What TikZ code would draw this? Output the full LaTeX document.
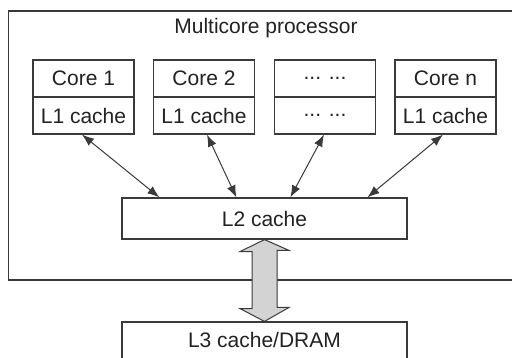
\documentclass[tikz,border=0pt]{standalone}
\usepackage{fontspec}
\setmainfont{Liberation Sans}
\usetikzlibrary{arrows.meta}
\definecolor{ln}{HTML}{3A3A3A}
\definecolor{tx}{HTML}{222222}
\definecolor{bigfill}{HTML}{D3D3D3}
\tikzset{
  box/.style={draw=ln, line width=1.2pt, fill=white, minimum width=101pt, minimum height=37pt, inner sep=0pt, text=tx, font=\fontsize{21}{24}\selectfont},
  wide/.style={box, minimum width=285pt, minimum height=41pt},
  link/.style={draw=ln, line width=1pt, {Latex[length=12pt,width=9pt]}-{Latex[length=12pt,width=9pt]}},
}
\begin{document}
\begin{tikzpicture}[x=1pt,y=-1pt]
\useasboundingbox (0,0) rectangle (512,358);
\clip (0,0) rectangle (512,358);
\fill[white] (0,0) rectangle (512,358);
\draw[ln, line width=1.2pt] (8.5,11) rectangle (530,280);
\node[text=tx, font=\fontsize{21}{24}\selectfont] (title) at (266,28) {Multicore processor};
% cores
\node[box] (c1t) at (83.5,78.5) {Core 1};
\node[box] (c1b) at (83.5,115.5) {L1 cache};
\node[box] (c2t) at (204,78.5) {Core 2};
\node[box] (c2b) at (204,115.5) {L1 cache};
\node[box] (c3t) at (325,78.5) {... ...};
\node[box] (c3b) at (325,115.5) {... ...};
\node[box] (c4t) at (445.5,78.5) {Core n};
\node[box] (c4b) at (445.5,115.5) {L1 cache};
% L2
\node[wide] (l2) at (264.5,218.5) {L2 cache};
\node[wide, minimum height=60pt] (l3) at (264.5,352) {};
\node[text=tx, font=\fontsize{21}{24}\selectfont] (l3t) at (264.5,340) {L3 cache/DRAM};
% links
\draw[link] ([xshift=38pt]l2.north west) -- ([xshift=-1.5pt]c1b.south);
\draw[link] ([xshift=115pt]l2.north west) -- ([xshift=3pt]c2b.south);
\draw[link] ([xshift=169pt]l2.north west) -- ([xshift=-1pt]c3b.south);
\draw[link] ([xshift=246pt]l2.north west) -- ([xshift=-2.5pt]c4b.south);
% big double arrow
\coordinate (bt) at (l2.south);
\coordinate (bb) at (l3.north);
\draw[ln, line width=1pt, fill=bigfill, line join=miter]
  (bt) -- ++(-24.5,12) -- ++(12,0) -- ++(0,57) -- ++(-12,0) -- (bb)
  -- ++(24.5,-14) -- ++(-12,0) -- ++(0,-57) -- ++(12,0) -- cycle;
\end{tikzpicture}
\end{document}
